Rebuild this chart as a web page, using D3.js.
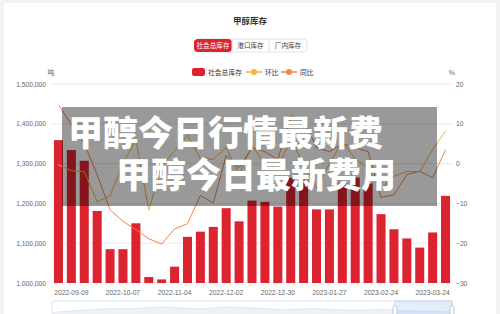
<!DOCTYPE html>
<html>
<head>
<meta charset="utf-8">
<script src="https://cdn.jsdelivr.net/npm/d3@7"></script>
<style>
body { margin: 0; background: #f3f3f3; }
text { font-family: "Noto Sans CJK SC", "Noto Sans", sans-serif; }
</style>
</head>
<body>
<div id="viz"></div>
<script>
// weekly methanol inventory
var dates = ["2022-09-02","2022-09-09","2022-09-16","2022-09-23","2022-09-30","2022-10-07","2022-10-14","2022-10-21","2022-10-28",
	"2022-11-04","2022-11-11","2022-11-18","2022-11-25","2022-12-02","2022-12-09","2022-12-16","2022-12-23","2022-12-30",
	"2023-01-06","2023-01-13","2023-01-20","2023-01-27","2023-02-03","2023-02-10","2023-02-17","2023-02-24",
	"2023-03-03","2023-03-10","2023-03-17","2023-03-24","2023-03-31"];
var stock = [1359000,1334000,1307000,1181000,1085000,1085000,1150000,1015000,1009000,
	1041000,1116000,1129000,1141000,1188000,1155000,1207000,1204000,1192000,
	1265000,1262000,1185000,1185000,1250000,1265000,1250000,1173000,
	1135000,1112000,1089000,1127000,1219000];
var huanbi = [-0.3,-1.8,-2.0,-9.6,-8.1,0,6.0,-11.7,-0.6,
	3.2,7.2,1.2,1.1,4.1,-2.8,4.5,-0.2,-1.0,
	6.1,-0.2,-6.1,0,5.5,1.2,-1.2,-6.2,
	-3.2,-2.0,-2.0,3.5,8.2];
var tongbi = [14.8,9.8,5,-2.8,-11.6,-14.5,-16.6,-18.9,-20.2,
	-16.4,-15.1,-8,-9.9,2,-1,4,3,1,
	12,11,4,3,5,4,3,-8.5,
	-7.8,-2.8,-1.9,-3.6,3.5];
var leftTicks = [1000000,1100000,1200000,1300000,1400000,1500000];
var rightTicks = [-30,-20,-10,0,10,20];
var xLabels = ["2022-09-09","2022-10-07","2022-11-04","2022-12-02","2022-12-30","2023-01-27","2023-02-24","2023-03-24"];
var tabs = ["社会总库存","港口库存","厂内库存"];
// rough shape of the slider preview
var preview = [0.35,0.45,0.5,0.6,0.55,0.65,0.7,0.6,0.55,0.7,0.65,0.6,0.5,0.55,0.6,0.5,0.45,0.55,0.5,0.4,0.45,0.35];

var red = "#dc2430", yellow = "#f6b53d", orange = "#ef8448";

var svg = d3.select("#viz")
	.append("svg")
	.attr("width",500)
	.attr("height",314)
	.style("display","block");

svg.append("rect")
	.attr("x",3).attr("y",2)
	.attr("width",494).attr("height",320)
	.attr("rx",3)
	.attr("fill","white")
	.attr("stroke","#ececec");

svg.append("text")
	.attr("x",250).attr("y",24)
	.attr("text-anchor","middle")
	.attr("font-size",8.5)
	.attr("font-weight",700)
	.attr("fill","#333")
	.text("甲醇库存");

// tab buttons
var tabW = [38,37,38];
var tx = 194;
var tabG = svg.append("g");
tabG.append("rect")
	.attr("x",194).attr("y",39)
	.attr("width",113).attr("height",13)
	.attr("rx",4)
	.attr("fill","white")
	.attr("stroke","#e2e2e2");
tabs.forEach(function(t,i){
	if(i==0){
		tabG.append("rect").attr("x",tx).attr("y",39)
			.attr("width",tabW[i]).attr("height",13).attr("rx",4)
			.attr("fill",red);
	} else {
		tabG.append("line").attr("x1",tx).attr("x2",tx)
			.attr("y1",39).attr("y2",52).attr("stroke","#e2e2e2");
	}
	tabG.append("text")
		.attr("x",tx+tabW[i]/2).attr("y",48)
		.attr("text-anchor","middle")
		.attr("font-size",6.6)
		.attr("fill",i==0 ? "white" : "#444")
		.text(t);
	tx += tabW[i];
});

// legend
var lg = svg.append("g");
lg.append("rect").attr("x",192).attr("y",68).attr("width",13).attr("height",8).attr("rx",2).attr("fill",red);
lg.append("text").attr("x",208).attr("y",74.5).attr("font-size",6.8).attr("fill","#333").text("社会总库存");
[[246,yellow,"环比"],[281,orange,"同比"]].forEach(function(d){
	lg.append("line").attr("x1",d[0]).attr("x2",d[0]+16).attr("y1",72).attr("y2",72).attr("stroke",d[1]).attr("stroke-width",1.5);
	lg.append("circle").attr("cx",d[0]+8).attr("cy",72).attr("r",3).attr("fill",d[1]);
	lg.append("text").attr("x",d[0]+19).attr("y",74.5).attr("font-size",6.8).attr("fill","#333").text(d[2]);
});

var x = d3.scaleBand().domain(dates).range([52,452]).paddingInner(0.3).paddingOuter(0.15);
var yL = d3.scaleLinear().domain([1000000,1500000]).range([283,84]);
var yR = d3.scaleLinear().domain([-30,20]).range([283,84]);

svg.append("text").attr("x",51).attr("y",74.5).attr("font-size",6.8).attr("fill","#666").attr("text-anchor","middle").text("吨");
svg.append("text").attr("x",452).attr("y",74.5).attr("font-size",6.8).attr("fill","#666").attr("text-anchor","middle").text("%");

// grid
svg.append("g").selectAll("line")
	.data(leftTicks)
	.enter().append("line")
	.attr("x1",52).attr("x2",452)
	.attr("y1",function(d){return yL(d)}).attr("y2",function(d){return yL(d)})
	.attr("stroke","#ebebeb");

var axL = svg.append("g")
	.attr("transform","translate(46,0)")
	.call(d3.axisLeft(yL).tickValues(leftTicks).tickFormat(d3.format(",")).tickSize(0));
var axR = svg.append("g")
	.attr("transform","translate(456,0)")
	.call(d3.axisRight(yR).tickValues(rightTicks).tickSize(0));
var axX = svg.append("g")
	.attr("transform","translate(0,287)")
	.call(d3.axisBottom(x).tickValues(xLabels).tickSize(0));
[axL,axR,axX].forEach(function(a){
	a.select(".domain").remove();
	a.selectAll("text").attr("font-size",6.7).attr("fill","#666")
		.style("font-family","'Liberation Sans', Arial, sans-serif");
});
axL.selectAll("text").attr("x",0);
axR.selectAll("text").attr("x",0);

// bars
svg.append("g").selectAll("rect")
	.data(stock)
	.enter().append("rect")
	.attr("x",function(d,i){return x(dates[i])})
	.attr("width",x.bandwidth())
	.attr("y",function(d){return yL(d)})
	.attr("height",function(d){return 283-yL(d)})
	.attr("fill",red);

var line = d3.line()
	.x(function(d,i){return x(dates[i])+x.bandwidth()/2})
	.y(function(d){return yR(d)});

svg.append("path").datum(tongbi)
	.attr("d",line).attr("fill","none").attr("stroke",orange).attr("stroke-width",1);
svg.append("path").datum(huanbi)
	.attr("d",line).attr("fill","none").attr("stroke",yellow).attr("stroke-width",1);

// slider
var sx = d3.scaleLinear().domain([0,preview.length-1]).range([53,451]);
var sy = d3.scaleLinear().domain([0,1]).range([318,302]);
svg.append("path").datum(preview)
	.attr("d",d3.area().x(function(d,i){return sx(i)}).y0(320).y1(function(d){return sy(d)}).curve(d3.curveBasis))
	.attr("fill","#eef1f6").attr("stroke","#d8dfea").attr("stroke-width",0.8);
svg.append("rect").attr("x",52).attr("y",301).attr("width",400).attr("height",20)
	.attr("fill","none").attr("stroke","#dfe5ee").attr("rx",2);
svg.append("rect").attr("x",395).attr("y",301).attr("width",57).attr("height",20)
	.attr("fill","rgba(135,175,245,0.22)").attr("stroke","#c9d6ee");
[395,452].forEach(function(h){
	svg.append("rect").attr("x",h-2).attr("y",306).attr("width",4).attr("height",10).attr("rx",1.5)
		.attr("fill","white").attr("stroke","#b9c6dc");
});

// watermark overlay
svg.append("rect").attr("x",62).attr("y",107).attr("width",375).attr("height",99)
	.attr("fill","rgba(0,0,0,0.4)");
svg.append("text").attr("x",68).attr("y",146)
	.attr("font-size",35).attr("font-weight",900).attr("fill","white")
	.text("甲醇今日行情最新费");
svg.append("text").attr("x",116).attr("y",188)
	.attr("font-size",35).attr("font-weight",900).attr("fill","white")
	.text("甲醇今日最新费用");
</script>
</body>
</html>
